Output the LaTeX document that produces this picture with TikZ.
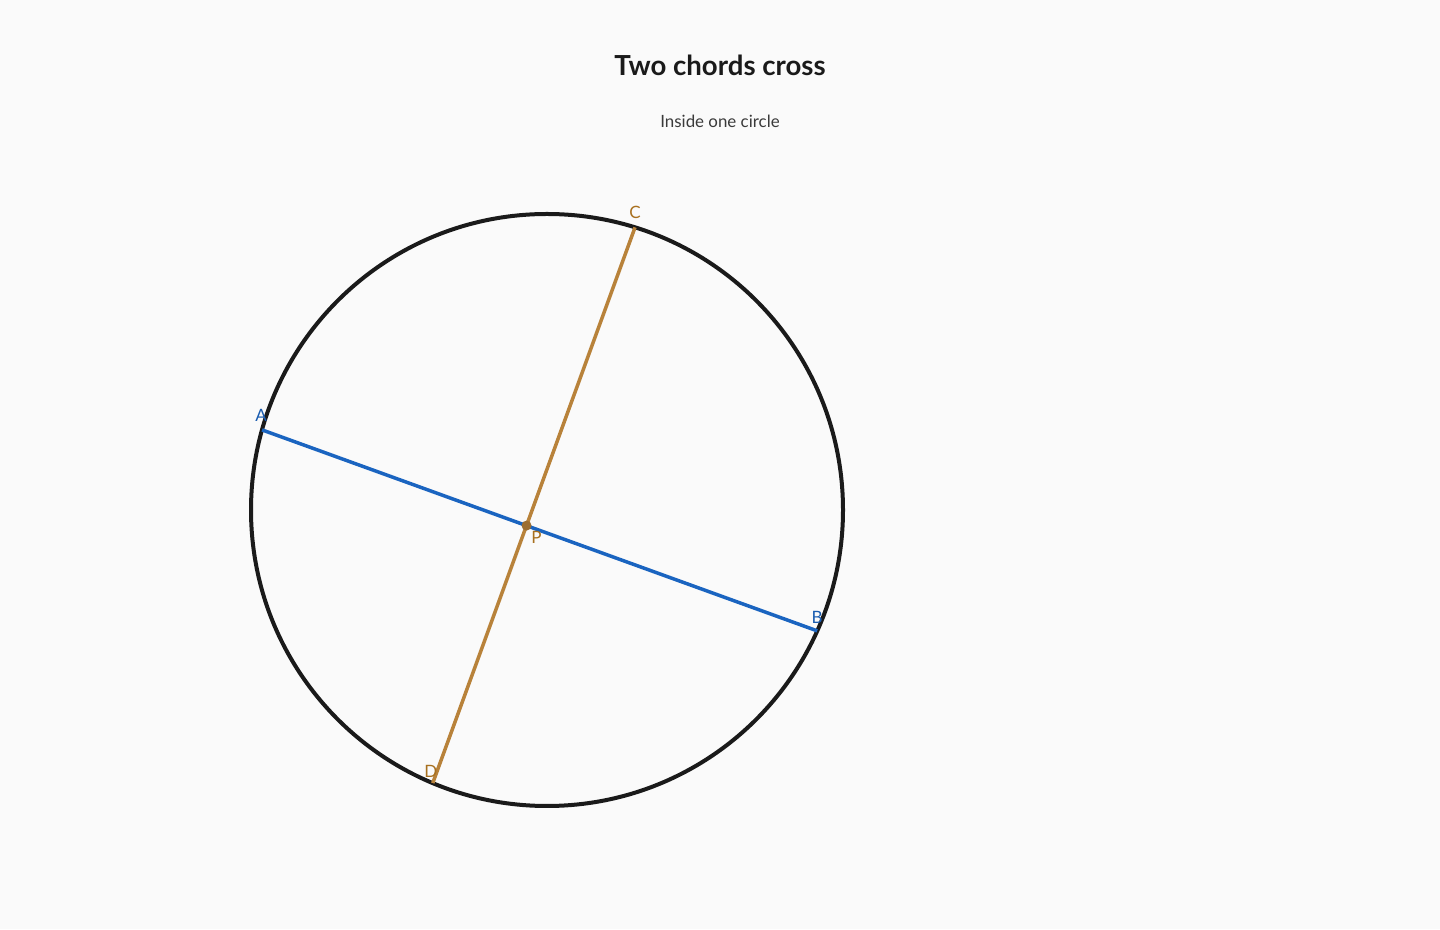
\documentclass[tikz,border=0pt]{standalone}
\usepackage{fontspec}
\setmainfont{Lato}
\usetikzlibrary{calc}
\definecolor{bg}{HTML}{FAFAFA}
\definecolor{ink}{HTML}{1A1A1A}
\definecolor{sub}{HTML}{3A3A3A}
\definecolor{chordab}{HTML}{1A64C0}
\definecolor{chordcd}{HTML}{B8823A}
\definecolor{lblcd}{HTML}{A8701F}
\definecolor{lblab}{HTML}{1A5CB0}
\begin{document}
\begin{tikzpicture}[x=1pt,y=1pt,
  circ/.style={draw=ink,line width=4pt},
  chordA/.style={draw=chordab,line width=3.5pt},
  chordC/.style={draw=chordcd,line width=3.5pt},
  ptlab/.style={inner sep=0pt,font=\fontsize{17}{20}\selectfont},
  titletext/.style={font=\fontsize{27.6}{32}\selectfont\bfseries,text=ink},
  subtext/.style={font=\fontsize{16.9}{20}\selectfont,text=sub}]
\fill[bg] (0,0) rectangle (1440,929);
\useasboundingbox (0,0) rectangle (1440,929);
\coordinate (O) at (547,419);
\node[titletext] (title) at (720,864) {Two chords cross};
\node[subtext] (subtitle) at (720,808) {Inside one circle};
\draw[circ] (O) circle (296);
\coordinate (A) at ($(O)+(164.3:296)$);
\coordinate (B) at ($(O)+(-24.1:296)$);
\coordinate (C) at ($(O)+(72.7:296)$);
\coordinate (D) at ($(O)+(247.3:296)$);
\coordinate (P) at (intersection of A--B and C--D);
\draw[chordA] (A) -- (B);
\draw[chordC] (C) -- (D);
\fill[chordcd!85!black] (P) circle (5);
\node[ptlab,text=lblab] (lA) at ($(A)+(-1,14)$) {A};
\node[ptlab,text=lblab] (lB) at ($(B)+(0,13)$) {B};
\node[ptlab,text=lblcd] (lC) at ($(C)+(0,15)$) {C};
\node[ptlab,text=lblcd] (lD) at ($(D)+(-2,12)$) {D};
\node[ptlab,text=lblcd] (lP) at ($(P)+(10,-12)$) {P};
\end{tikzpicture}
\end{document}
